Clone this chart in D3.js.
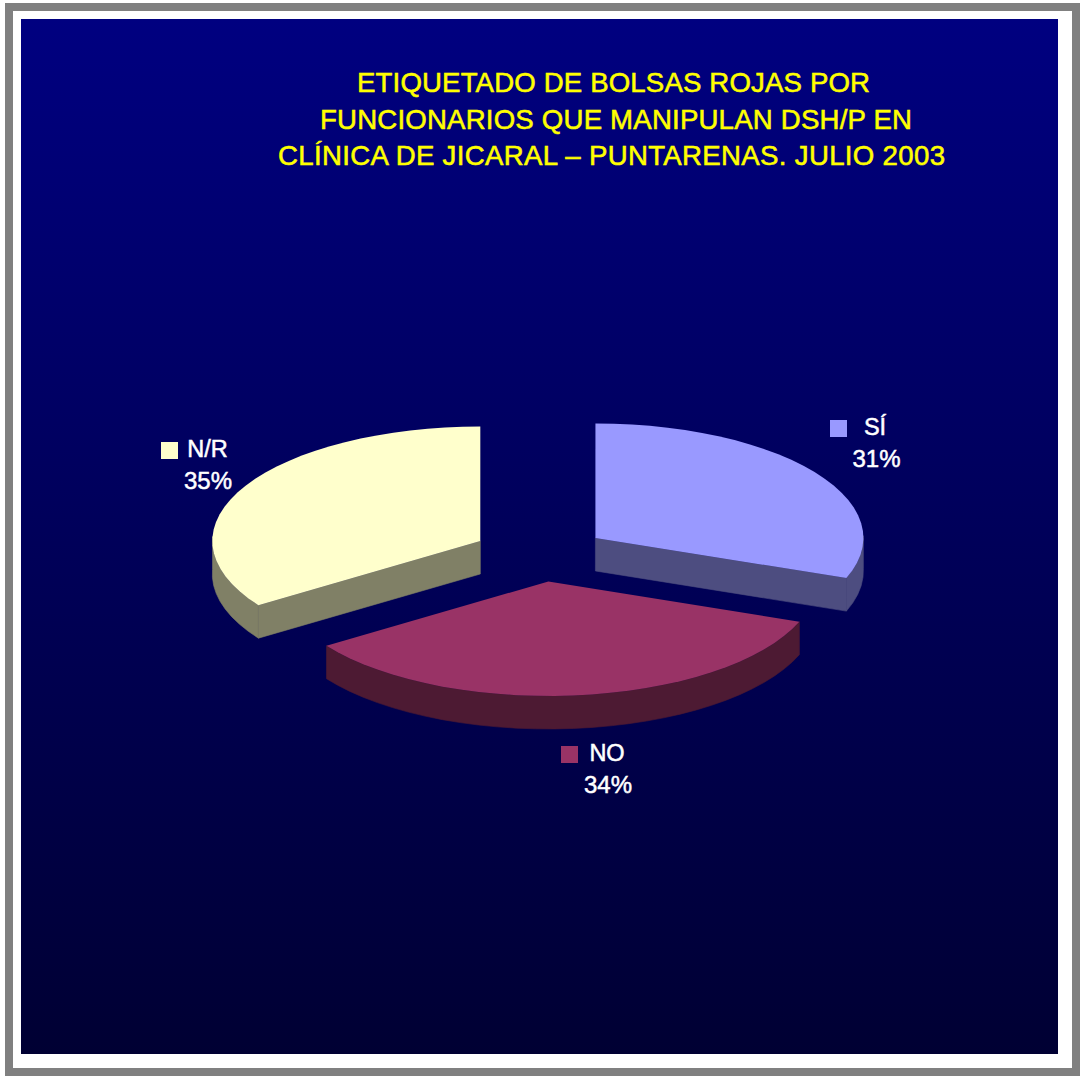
<!DOCTYPE html>
<html lang="es">
<head>
<meta charset="utf-8">
<title>Etiquetado de bolsas rojas</title>
<script src="https://cdn.jsdelivr.net/npm/d3@7/dist/d3.min.js"></script>
<style>
  html, body { margin: 0; padding: 0; background: #fff; overflow: hidden; }
  svg { display: block; }
  text { font-family: "Liberation Sans", Arial, sans-serif; }
</style>
</head>
<body>
<svg id="chart" width="1081" height="1078"></svg>
<script>
// Survey answers, in percent
const categories = ["SÍ", "NO", "N/R"];
const percentages = [31, 34, 35];
const titleLines = [
  "ETIQUETADO DE BOLSAS ROJAS POR",
  "FUNCIONARIOS QUE MANIPULAN DSH/P EN",
  "CLÍNICA DE JICARAL – PUNTARENAS. JULIO 2003"
];

const topColors = ["#9999ff", "#993366", "#ffffcc"];
const sideColors = ["#4d4d80", "#4d1a33", "#808066"];

const width = 1081, height = 1078;
const svg = d3.select("#chart");

// Slide background and double frame
const defs = svg.append("defs");
const grad = defs.append("linearGradient")
  .attr("id", "slideFill").attr("x1", 0).attr("y1", 0).attr("x2", 0).attr("y2", 1);
grad.append("stop").attr("offset", "0%").attr("stop-color", "#000080");
grad.append("stop").attr("offset", "100%").attr("stop-color", "#000033");

svg.append("rect").attr("width", width).attr("height", height).attr("fill", "#fff");
svg.append("rect").attr("x", 5).attr("y", 3).attr("width", 1075).attr("height", 1073).attr("fill", "#808080");
svg.append("rect").attr("x", 13).attr("y", 11).attr("width", 1059).attr("height", 1057).attr("fill", "#fff");
svg.append("rect").attr("x", 21).attr("y", 19).attr("width", 1037).attr("height", 1035).attr("fill", "url(#slideFill)");

// Title
const titleCenters = [613.5, 616, 611.5];
const titleBaselines = [92, 128.5, 165];
const titleWidths = [513, 592, 667];
svg.append("g").selectAll("text").data(titleLines).join("text")
  .attr("x", (d, i) => titleCenters[i])
  .attr("y", (d, i) => titleBaselines[i])
  .attr("text-anchor", "middle")
  .attr("font-size", 27.6)
  .attr("textLength", (d, i) => titleWidths[i])
  .attr("fill", "#ffff00")
  .attr("stroke", "#ffff00")
  .attr("stroke-width", 0.55)
  .text(d => d);

// Exploded pie, projected onto a tilted plane
const center = { x: 540, y: 553.7 };
const rx = 268, ry = 114.5, depth = 33;
const explodeX = 67, explodeY = 28;
const stepDeg = 4;
// Pulls the near half of the disc toward the viewer; the view sits a little off-axis,
// so the left side is affected more than the right
const perspectiveRight = 0.02, perspectiveLeft = 0.04;

const slices = d3.pie().sort(null).value(d => d)(percentages);

const offset = s => {
  const mid = (s.startAngle + s.endAngle) / 2;
  return { x: center.x + explodeX * Math.sin(mid), y: center.y - explodeY * Math.cos(mid) };
};
const rim = (c, a, dz = 0) => {
  const k = Math.sin(a) > 0 ? perspectiveRight : perspectiveLeft;
  const p = Math.atan2(Math.sin(a), Math.cos(a) + k);
  return [c.x + rx * Math.sin(p), c.y - ry * Math.cos(p) + dz];
};
const anglesBetween = (a0, a1) => {
  const n = Math.max(1, Math.round((a1 - a0) * 180 / Math.PI / stepDeg));
  return d3.range(n + 1).map(i => a0 + (a1 - a0) * i / n);
};
const polygon = d3.line().curve(d3.curveLinearClosed);

const pieGroup = svg.append("g");
slices.forEach((s, i) => {
  const c = offset(s);
  const g = pieGroup.append("g");
  const side = pts => g.append("path").attr("d", polygon(pts))
    .attr("fill", sideColors[i]).attr("stroke", sideColors[i]).attr("stroke-width", 0.6);

  // Outer wall: only the near half of the rim can be seen
  const a0 = Math.max(s.startAngle, Math.PI / 2);
  const a1 = Math.min(s.endAngle, 3 * Math.PI / 2);
  if (a1 > a0) {
    const arc = anglesBetween(a0, a1);
    side(arc.map(a => rim(c, a)).concat(arc.slice().reverse().map(a => rim(c, a, depth))));
  }

  // Cut faces, drawn when their outward side turns toward the viewer
  const cutFace = a => {
    const e = rim(c, a);
    side([[c.x, c.y], e, [e[0], e[1] + depth], [c.x, c.y + depth]]);
  };
  if (Math.sin(s.startAngle) < -1e-9) cutFace(s.startAngle);
  if (Math.sin(s.endAngle) > 1e-9) cutFace(s.endAngle);

  // Top face
  const top = [[c.x, c.y]].concat(anglesBetween(s.startAngle, s.endAngle).map(a => rim(c, a)));
  g.append("path").attr("d", polygon(top)).attr("fill", topColors[i]);
});

// Data labels with their legend keys
const labelLayout = [
  { key: [830, 420], nameX: 875, nameY: 435, pctX: 876.5, pctY: 467 },
  { key: [561, 746], nameX: 607, nameY: 761, pctX: 608, pctY: 793 },
  { key: [161, 442], nameX: 207.5, nameY: 457, pctX: 208, pctY: 489 }
];
const labels = svg.append("g").selectAll("g").data(categories).join("g");
labels.append("rect")
  .attr("x", (d, i) => labelLayout[i].key[0])
  .attr("y", (d, i) => labelLayout[i].key[1])
  .attr("width", 17).attr("height", 17)
  .attr("fill", (d, i) => topColors[i]);
labels.append("text")
  .attr("x", (d, i) => labelLayout[i].nameX)
  .attr("y", (d, i) => labelLayout[i].nameY)
  .attr("text-anchor", "middle").attr("font-size", 23.5).attr("fill", "#fff")
  .attr("stroke", "#fff").attr("stroke-width", 0.5)
  .text(d => d);
labels.append("text")
  .attr("x", (d, i) => labelLayout[i].pctX)
  .attr("y", (d, i) => labelLayout[i].pctY)
  .attr("text-anchor", "middle").attr("font-size", 24).attr("fill", "#fff")
  .attr("stroke", "#fff").attr("stroke-width", 0.5)
  .text((d, i) => percentages[i] + "%");
</script>
</body>
</html>
